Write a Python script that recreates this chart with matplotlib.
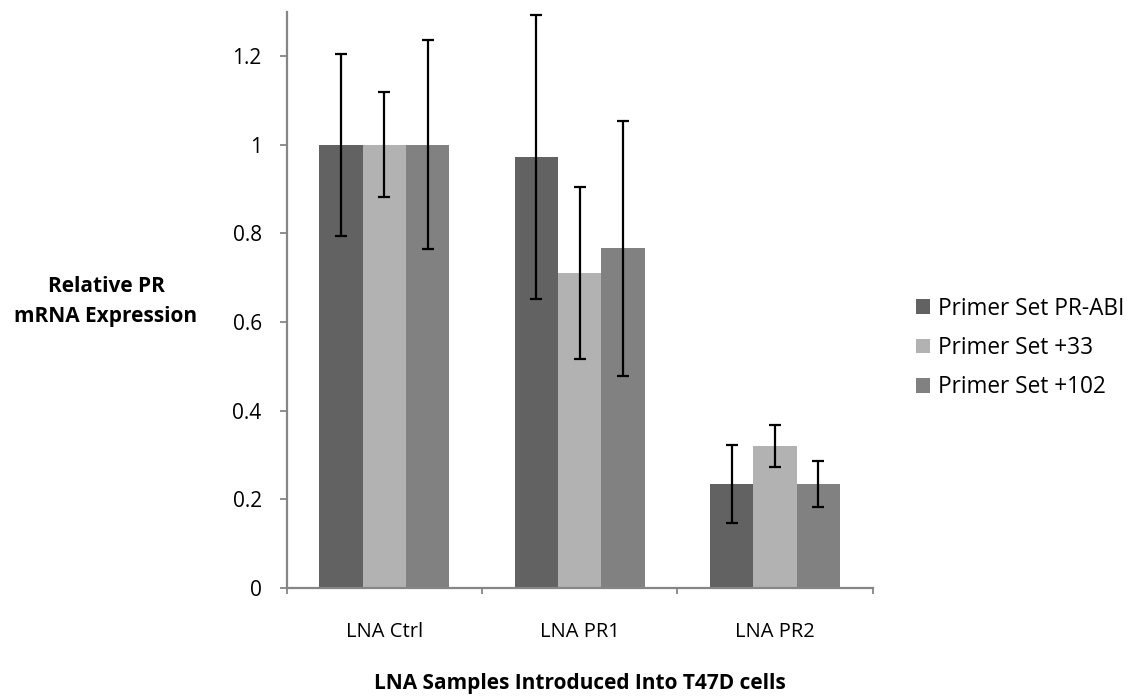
import matplotlib
matplotlib.use("Agg")
import matplotlib.pyplot as plt
import numpy as np

categories = ["LNA Ctrl", "LNA PR1", "LNA PR2"]
series_names = ["Primer Set PR-ABI", "Primer Set +33", "Primer Set +102"]
values_abi = [1.0, 0.972, 0.234]
values_33 = [1.0, 0.711, 0.320]
values_102 = [1.0, 0.766, 0.234]
err_abi = [0.205, 0.320, 0.088]
err_33 = [0.119, 0.194, 0.047]
err_102 = [0.236, 0.288, 0.052]
colors = ["#626262", "#b2b2b2", "#818181"]

plt.rcParams['font.family'] = ['Open Sans', 'DejaVu Sans']

W, H = 1133, 698
fig = plt.figure(figsize=(W / 100, H / 100), dpi=100)
ax_left, ax_right, ax_bottom = 286.7, 872.7, 587.7
ax_h = 1.3 * 443
ax = fig.add_axes([ax_left / W, 1 - ax_bottom / H, (ax_right - ax_left) / W, ax_h / H])

x = np.arange(len(categories))
w = 0.222
all_vals = [values_abi, values_33, values_102]
all_err = [err_abi, err_33, err_102]
for i, (vals, errs) in enumerate(zip(all_vals, all_err)):
    ax.bar(x + (i - 1) * w, vals, width=w, color=colors[i], label=series_names[i],
           yerr=errs, error_kw=dict(ecolor='black', elinewidth=1.6, capsize=4.5, capthick=1.6),
           zorder=2)

ax.set_xlim(-0.5, 2.5)
ax.set_ylim(0, 1.3)
ax.set_yticks([0, 0.2, 0.4, 0.6, 0.8, 1.0, 1.2])
ax.set_yticklabels(["0", "0.2", "0.4", "0.6", "0.8", "1", "1.2"], fontsize=15)
ax.set_xticks([-0.5, 0.5, 1.5, 2.5])
ax.set_xticklabels([])
ax.set_xticks(x, minor=True)
ax.set_xticklabels(categories, minor=True, fontsize=14.5)
ax.tick_params(axis='x', which='minor', length=0, pad=25)
ax.tick_params(axis='x', which='major', length=4, width=1.3, color='#868686', direction='out')
ax.tick_params(axis='y', length=5, width=1.3, color='#868686', direction='out', pad=13)
for s in ['top', 'right']:
    ax.spines[s].set_visible(False)
for s in ['left', 'bottom']:
    ax.spines[s].set_color('#868686')
    ax.spines[s].set_linewidth(1.6)

fig.text(106 / W, 1 - 301.5 / H, "Relative PR\nmRNA Expression", ha='center', va='center',
         fontsize=15, fontweight='bold', linespacing=1.6)
fig.text(580 / W, 1 - 683 / H, "LNA Samples Introduced Into T47D cells", ha='center', va='center',
         fontsize=15, fontweight='bold')

leg = ax.legend(loc='center left', bbox_to_anchor=(916 / W, 1 - 348 / H),
                bbox_transform=fig.transFigure, frameon=False, fontsize=16.3,
                handlelength=0.62, handleheight=0.62, handletextpad=0.35,
                labelspacing=0.68, borderpad=0, borderaxespad=0)

fig.savefig("out.png", dpi=100)
